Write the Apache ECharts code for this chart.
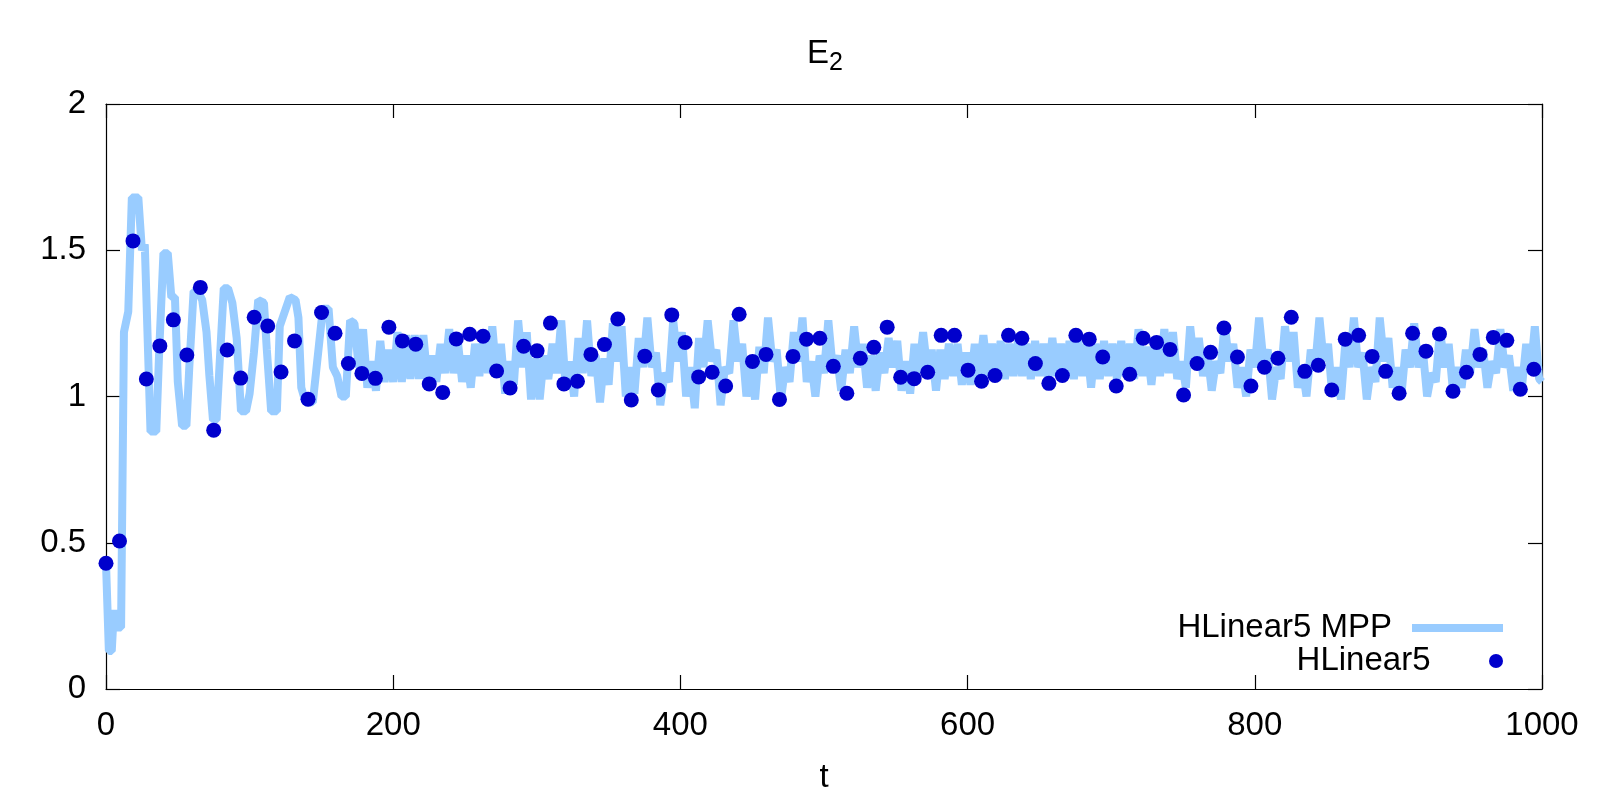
<!DOCTYPE html>
<html>
<head>
<meta charset="utf-8">
<script src="https://cdn.jsdelivr.net/npm/echarts@6/dist/echarts.min.js"></script>
<style>html,body{margin:0;padding:0;background:#fff}#c{width:1600px;height:800px}</style>
</head>
<body>
<div id="c"></div>
<script>
const titleMain = 'E';
const titleSub = '2';
const xName = 't';
const seriesNames = ['HLinear5 MPP', 'HLinear5'];
const xTicks = [0, 200, 400, 600, 800, 1000];
const yTicks = [0, 0.5, 1, 1.5, 2];

const dotT = [0, 9.4, 18.8, 28.1, 37.5, 46.9, 56.3, 65.7, 75.0, 84.4,
  93.8, 103.2, 112.6, 121.9, 131.3, 140.7, 150.1, 159.5, 168.8, 178.2,
  187.6, 197.0, 206.4, 215.7, 225.1, 234.5, 243.9, 253.3, 262.6, 272.0,
  281.4, 290.8, 300.2, 309.5, 318.9, 328.3, 337.7, 347.1, 356.4, 365.8,
  375.2, 384.6, 394.0, 403.3, 412.7, 422.1, 431.5, 440.9, 450.2, 459.6,
  469.0, 478.4, 487.8, 497.1, 506.5, 515.9, 525.3, 534.7, 544.0, 553.4,
  562.8, 572.2, 581.6, 590.9, 600.3, 609.7, 619.1, 628.5, 637.8, 647.2,
  656.6, 666.0, 675.4, 684.7, 694.1, 703.5, 712.9, 722.3, 731.6, 741.0,
  750.4, 759.8, 769.2, 778.5, 787.9, 797.3, 806.7, 816.1, 825.4, 834.8,
  844.2, 853.6, 863.0, 872.3, 881.7, 891.1, 900.5, 909.9, 919.2, 928.6,
  938.0, 947.4, 956.8, 966.1, 975.5, 984.9, 994.3];
const dotV = [0.430, 0.506, 1.532, 1.060, 1.173, 1.262, 1.142, 1.373, 0.885, 1.159,
  1.063, 1.271, 1.241, 1.084, 1.190, 0.991, 1.287, 1.216, 1.113, 1.079,
  1.062, 1.237, 1.190, 1.179, 1.043, 1.014, 1.197, 1.213, 1.206, 1.087,
  1.029, 1.172, 1.156, 1.251, 1.043, 1.052, 1.144, 1.178, 1.265, 0.988,
  1.138, 1.022, 1.279, 1.185, 1.067, 1.083, 1.036, 1.281, 1.120, 1.144,
  0.990, 1.137, 1.196, 1.199, 1.103, 1.011, 1.131, 1.168, 1.237, 1.066,
  1.061, 1.083, 1.209, 1.209, 1.090, 1.052, 1.072, 1.209, 1.199, 1.113,
  1.045, 1.072, 1.209, 1.196, 1.135, 1.036, 1.076, 1.199, 1.185, 1.161,
  1.005, 1.113, 1.151, 1.234, 1.135, 1.036, 1.100, 1.131, 1.271, 1.086,
  1.107, 1.022, 1.196, 1.209, 1.137, 1.086, 1.011, 1.216, 1.155, 1.214,
  1.018, 1.083, 1.144, 1.202, 1.192, 1.025, 1.093];

const mppT = [0, 2, 4, 5.5, 7, 10.5, 12.5, 15.5, 18, 22.5,
  25, 27, 31, 35, 37, 40, 43, 45.5, 48, 50,
  53, 56, 58, 61, 64, 67, 70, 72, 74.5, 77,
  79, 82, 85, 88, 91, 94, 97.5, 100, 103, 106,
  110, 112, 115, 119, 121, 128, 132, 134, 136, 139,
  144, 146, 151, 155, 158, 161, 164, 167, 170,
  173, 176, 179, 182, 185, 188, 191, 194, 197, 200,
  203, 206, 209, 212, 215, 218, 221, 224, 227, 230,
  233, 236, 239, 242, 245, 248, 251, 254, 257, 260,
  263, 266, 269, 272, 275, 278, 281, 284, 287, 290,
  293, 296, 299, 302, 305, 308, 311, 314, 317, 320,
  323, 326, 329, 332, 335, 338, 341, 344, 347, 350,
  353, 356, 359, 362, 365, 368, 371, 374, 377, 380,
  383, 386, 389, 392, 395, 398, 401, 404, 407, 410,
  413, 416, 419, 422, 425, 428, 431, 434, 437, 440,
  443, 446, 449, 452, 455, 458, 461, 464, 467, 470,
  473, 476, 479, 482, 485, 488, 491, 494, 497, 500,
  503, 506, 509, 512, 515, 518, 521, 524, 527, 530,
  533, 536, 539, 542, 545, 548, 551, 554, 557, 560,
  563, 566, 569, 572, 575, 578, 581, 584, 587, 590,
  593, 596, 599, 602, 605, 608, 611, 614, 617, 620,
  623, 626, 629, 632, 635, 638, 641, 644, 647, 650,
  653, 656, 659, 662, 665, 668, 671, 674, 677, 680,
  683, 686, 689, 692, 695, 698, 701, 704, 707, 710,
  713, 716, 719, 722, 725, 728, 731, 734, 737, 740,
  743, 746, 749, 752, 755, 758, 761, 764, 767, 770,
  773, 776, 779, 782, 785, 788, 791, 794, 797, 800,
  803, 806, 809, 812, 815, 818, 821, 824, 827, 830,
  833, 836, 839, 842, 845, 848, 851, 854, 857, 860,
  863, 866, 869, 872, 875, 878, 881, 884, 887, 890,
  893, 896, 899, 902, 905, 908, 911, 914, 917, 920,
  923, 926, 929, 932, 935, 938, 941, 944, 947, 950,
  953, 956, 959, 962, 965, 968, 971, 974, 977, 980,
  983, 986, 989, 992, 995, 998, 1000];
const mppV = [0.43, 0.13, 0.13, 0.27, 0.21, 0.21, 1.22, 1.29, 1.68, 1.68,
  1.50, 1.52, 0.88, 0.88, 1.15, 1.49, 1.49, 1.34, 1.34, 1.05,
  0.90, 0.90, 1.10, 1.36, 1.36, 1.33, 1.22, 1.07, 0.92, 0.92,
  1.10, 1.37, 1.37, 1.32, 1.20, 0.95, 0.95, 1.01, 1.15, 1.33,
  1.32, 1.16, 0.95, 0.95, 1.24, 1.34, 1.33, 1.27, 1.03, 0.98,
  0.98, 1.07, 1.30, 1.30, 1.10, 1.07, 1.00, 1.00, 1.26,
  1.25, 1.10, 1.23, 1.03, 1.12, 1.02, 1.19, 1.05, 1.16, 1.05,
  1.22, 1.05, 1.21, 1.06, 1.21, 1.06, 1.21, 1.05, 1.14, 1.05,
  1.18, 1.08, 1.23, 1.08, 1.19, 1.05, 1.14, 1.03, 1.18, 1.07,
  1.20, 1.08, 1.24, 1.07, 1.18, 1.01, 1.12, 1.04, 1.26, 1.10,
  1.22, 0.99, 1.13, 0.99, 1.14, 1.06, 1.18, 1.08, 1.26, 1.04,
  1.12, 1.00, 1.20, 1.08, 1.26, 1.07, 1.14, 0.98, 1.13, 1.04,
  1.25, 1.12, 1.24, 1.00, 1.10, 1.01, 1.20, 1.10, 1.27, 1.10,
  1.15, 0.97, 1.08, 1.05, 1.26, 1.12, 1.22, 1.00, 1.10, 0.96,
  1.20, 1.10, 1.26, 1.12, 1.16, 0.97, 1.10, 1.08, 1.26, 1.12,
  1.18, 1.00, 1.10, 0.99, 1.17, 1.08, 1.27, 1.12, 1.16, 0.99,
  1.10, 1.05, 1.22, 1.12, 1.27, 1.05, 1.12, 1.00, 1.14, 1.08,
  1.26, 1.10, 1.14, 1.02, 1.16, 1.08, 1.24, 1.10, 1.18, 1.03,
  1.14, 1.02, 1.15, 1.08, 1.20, 1.10, 1.19, 1.02, 1.12, 1.01,
  1.18, 1.08, 1.22, 1.09, 1.16, 1.02, 1.16, 1.06, 1.18, 1.07,
  1.18, 1.04, 1.15, 1.04, 1.18, 1.07, 1.21, 1.07, 1.18, 1.07,
  1.19, 1.06, 1.18, 1.07, 1.19, 1.07, 1.18, 1.06, 1.19, 1.07,
  1.18, 1.06, 1.20, 1.07, 1.18, 1.07, 1.19, 1.06, 1.19, 1.07,
  1.18, 1.03, 1.18, 1.06, 1.19, 1.07, 1.18, 1.06, 1.19, 1.07,
  1.18, 1.06, 1.23, 1.07, 1.17, 1.04, 1.18, 1.07, 1.23, 1.08,
  1.22, 1.06, 1.12, 1.03, 1.24, 1.10, 1.20, 1.07, 1.15, 1.02,
  1.12, 1.08, 1.25, 1.12, 1.18, 1.03, 1.10, 1.00, 1.16, 1.10,
  1.27, 1.12, 1.16, 0.99, 1.10, 1.06, 1.24, 1.12, 1.22, 1.03,
  1.10, 1.00, 1.16, 1.10, 1.27, 1.12, 1.18, 1.00, 1.10, 0.99,
  1.18, 1.10, 1.27, 1.10, 1.15, 0.99, 1.10, 1.05, 1.27, 1.12,
  1.20, 1.03, 1.10, 1.00, 1.16, 1.10, 1.25, 1.10, 1.16, 1.00,
  1.08, 1.05, 1.23, 1.10, 1.18, 1.02, 1.10, 1.03, 1.16, 1.08,
  1.23, 1.10, 1.16, 1.03, 1.12, 1.08, 1.23, 1.10, 1.14, 1.02,
  1.10, 1.03, 1.18, 1.08, 1.24, 1.06, 1.05];

const FONT = '"Liberation Sans", Arial, Helvetica, sans-serif';
const lineColor = '#99ccff';
const dotColor = '#0000cc';

const mppData = mppT.map((t, i) => [t, mppV[i]]);
const dotData = dotT.map((t, i) => [t, dotV[i]]);

const axisCommon = {
  type: 'value',
  axisLine: { show: true, onZero: false, lineStyle: { color: '#000', width: 1.2 } },
  axisTick: { show: true, inside: true, length: 14, lineStyle: { color: '#000', width: 1.2 } },
  splitLine: { show: false }
};
const labelFmt = v => String(v);

const chart = echarts.init(document.getElementById('c'), null, { renderer: 'canvas' });
chart.setOption({
  animation: false,
  backgroundColor: '#fff',
  title: {
    text: titleMain + '{sub|' + titleSub + '}',
    left: 807, top: 32, padding: 0,
    textStyle: {
      fontFamily: FONT, fontSize: 33, fontWeight: 'normal', color: '#000', lineHeight: 44,
      rich: { sub: { fontFamily: FONT, fontSize: 25, color: '#000', lineHeight: 26, verticalAlign: 'bottom' } }
    }
  },
  grid: { left: 106, right: 58, top: 104, bottom: 111, containLabel: false, outerBoundsMode: 'none' },
  legend: [
    {
      data: [{ name: seriesNames[0], icon: 'rect' }],
      right: 97, top: 611, padding: 0, align: 'right', orient: 'vertical',
      itemWidth: 91, itemHeight: 8, selectedMode: false,
      textStyle: { fontFamily: FONT, fontSize: 33, color: '#000', lineHeight: 34, padding: [0, 15, 0, 0] }
    },
    {
      data: [{ name: seriesNames[1], icon: 'circle' }],
      right: 97, top: 644, padding: 0, align: 'right', orient: 'vertical',
      itemWidth: 91, itemHeight: 14, selectedMode: false,
      textStyle: { fontFamily: FONT, fontSize: 33, color: '#000', lineHeight: 34, padding: [0, 15, 0, 0] }
    }
  ],
  xAxis: [
    Object.assign({}, axisCommon, {
      min: xTicks[0], max: xTicks[xTicks.length - 1], interval: xTicks[1] - xTicks[0],
      position: 'bottom',
      name: xName, nameLocation: 'middle', nameGap: 72,
      nameTextStyle: { fontFamily: FONT, fontSize: 33, color: '#000' },
      axisLabel: { show: true, margin: 20, fontFamily: FONT, fontSize: 33, color: '#000', formatter: labelFmt }
    }),
    Object.assign({}, axisCommon, {
      min: xTicks[0], max: xTicks[xTicks.length - 1], interval: xTicks[1] - xTicks[0],
      position: 'top', axisLabel: { show: false }
    })
  ],
  yAxis: [
    Object.assign({}, axisCommon, {
      min: yTicks[0], max: yTicks[yTicks.length - 1], interval: yTicks[1] - yTicks[0],
      position: 'left',
      axisLabel: { show: true, margin: 20, fontFamily: FONT, fontSize: 33, color: '#000', padding: [7, 0, 0, 0], formatter: labelFmt }
    }),
    Object.assign({}, axisCommon, {
      min: yTicks[0], max: yTicks[yTicks.length - 1], interval: yTicks[1] - yTicks[0],
      position: 'right', axisLabel: { show: false }
    })
  ],
  series: [
    {
      name: seriesNames[0], type: 'line', data: mppData,
      xAxisIndex: 0, yAxisIndex: 0,
      showSymbol: false, symbol: 'none',
      itemStyle: { color: lineColor },
      lineStyle: { color: lineColor, width: 8, join: 'bevel', cap: 'butt', opacity: 1 },
      emphasis: { disabled: true }, silent: true, z: 2
    },
    {
      name: seriesNames[1], type: 'scatter', data: dotData,
      xAxisIndex: 0, yAxisIndex: 0,
      symbol: 'circle', symbolSize: 15,
      itemStyle: { color: dotColor, opacity: 1 },
      emphasis: { disabled: true }, silent: true, z: 3
    }
  ]
});
</script>
</body>
</html>
